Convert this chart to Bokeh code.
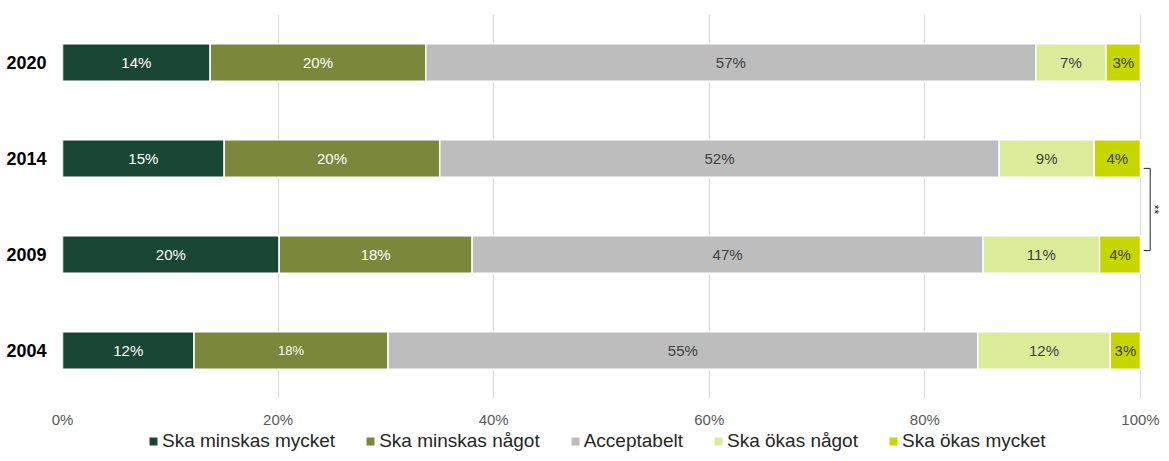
from bokeh.plotting import figure
from bokeh.models import (Range1d, FixedTicker, ColumnDataSource, Legend, LegendItem)
from bokeh.layouts import column
from bokeh.core.properties import value
from bokeh.embed import file_html
from bokeh.resources import INLINE
import math

years = ["2004", "2009", "2014", "2020"]
series_names = ["Ska minskas mycket", "Ska minskas något", "Acceptabelt",
                "Ska ökas något", "Ska ökas mycket"]
minskas_mycket = [12.2, 20.1, 15.0, 13.7]
minskas_nagot = [18.0, 17.9, 20.0, 20.0]
acceptabelt = [54.7, 47.4, 51.9, 56.6]
okas_nagot = [12.3, 10.8, 8.8, 6.5]
okas_mycket = [2.8, 3.8, 4.3, 3.2]

lab_minskas_mycket = ["12%", "20%", "15%", "14%"]
lab_minskas_nagot = ["18%", "18%", "20%", "20%"]
lab_acceptabelt = ["55%", "47%", "52%", "57%"]
lab_okas_nagot = ["12%", "11%", "9%", "7%"]
lab_okas_mycket = ["3%", "4%", "4%", "3%"]

x_ticks = [0, 20, 40, 60, 80, 100]
x_tick_labels = ["0%", "20%", "40%", "60%", "80%", "100%"]

colors = ["#1a4634", "#7b873b", "#bcbdbc", "#daec99", "#c6d700"]
text_colors = ["white", "white", "#404040", "#404040", "#404040"]

FONT = "Liberation Sans"

p = figure(width=1161, height=430, output_backend="svg", toolbar_location=None,
           x_range=Range1d(0, 101.95), y_range=Range1d(-0.5, 3.5),
           min_border_left=62, min_border_right=0, min_border_top=14,
           min_border_bottom=30)
p.outline_line_color = None
p.background_fill_color = "white"
p.border_fill_color = "white"

ypos = list(range(len(years)))
all_vals = [minskas_mycket, minskas_nagot, acceptabelt, okas_nagot, okas_mycket]
all_labs = [lab_minskas_mycket, lab_minskas_nagot, lab_acceptabelt, lab_okas_nagot, lab_okas_mycket]

left = [0.0] * len(years)
for i, (vals, labs) in enumerate(zip(all_vals, all_labs)):
    right = [l + v for l, v in zip(left, vals)]
    mid = [(l + r) / 2 for l, r in zip(left, right)]
    sizes = ["15px"] * len(years)
    if i == 1:
        sizes[0] = "13px"
    src = ColumnDataSource(dict(y=ypos, left=left, right=right, mid=mid, lab=labs, size=sizes))
    p.hbar(y="y", left="left", right="right", height=0.39, source=src,
           fill_color=colors[i], line_color="white", line_width=1.5)
    p.text(x="mid", y="y", text="lab", source=src, text_align="center",
           text_baseline="middle", text_color=text_colors[i],
           text_font=value(FONT), text_font_size="size")
    left = right

# significance bracket between 2014 and 2009
p.line(x=[100.3, 100.9, 100.9, 100.3], y=[1.897, 1.897, 1.041, 1.041],
       line_color="#262626", line_width=1)
p.text(x=[101.3], y=[1.47], text=["**"], angle=-math.pi / 2,
       text_align="center", text_baseline="middle", text_color="#262626",
       text_font=value(FONT), text_font_size="12px")

p.xaxis.ticker = FixedTicker(ticks=x_ticks)
p.xaxis.major_label_overrides = {t: l for t, l in zip(x_ticks, x_tick_labels)}
p.xaxis.axis_line_color = None
p.xaxis.major_tick_line_color = None
p.xaxis.major_tick_out = 0
p.xaxis.major_tick_in = 0
p.xaxis.minor_tick_line_color = None
p.xaxis.major_label_text_font = FONT
p.xaxis.major_label_text_font_size = "15px"
p.xaxis.major_label_text_color = "#595959"
p.xaxis.major_label_standoff = 12

p.yaxis.ticker = FixedTicker(ticks=ypos)
p.yaxis.major_label_overrides = {y: t for y, t in zip(ypos, years)}
p.yaxis.axis_line_color = None
p.yaxis.major_tick_line_color = None
p.yaxis.major_tick_out = 0
p.yaxis.major_tick_in = 0
p.yaxis.minor_tick_line_color = None
p.yaxis.major_label_text_font = FONT
p.yaxis.major_label_text_font_size = "18px"
p.yaxis.major_label_text_font_style = "bold"
p.yaxis.major_label_text_color = "black"
p.yaxis.major_label_standoff = 16

p.xgrid.ticker = FixedTicker(ticks=x_ticks)
p.xgrid.grid_line_color = "#d9d9d9"
p.ygrid.grid_line_color = None

# legend strip
p2 = figure(width=1161, height=23, output_backend="svg", toolbar_location=None,
            x_range=Range1d(0, 1), y_range=Range1d(0, 1),
            x_axis_location=None, y_axis_location=None,
            min_border_left=0, min_border_right=0, min_border_top=0,
            min_border_bottom=0)
p2.outline_line_color = None
p2.xgrid.grid_line_color = None
p2.ygrid.grid_line_color = None
items = []
for i, name in enumerate(series_names):
    r = p2.hbar(y=[-10], left=[0], right=[1], height=0.5,
                fill_color=colors[i], line_color=None)
    items.append(LegendItem(label=name, renderers=[r], index=0))
legend = Legend(items=items, orientation="horizontal", location=(86, 1),
                padding=0, margin=0, spacing=30, label_standoff=4,
                glyph_width=10, glyph_height=10, label_height=20,
                label_text_font=FONT, label_text_font_size="19px",
                label_text_color="#262626",
                border_line_color=None, background_fill_alpha=0)
p2.add_layout(legend, "center")

open("out.html", "w").write(file_html(column(p, p2, spacing=0), INLINE))
